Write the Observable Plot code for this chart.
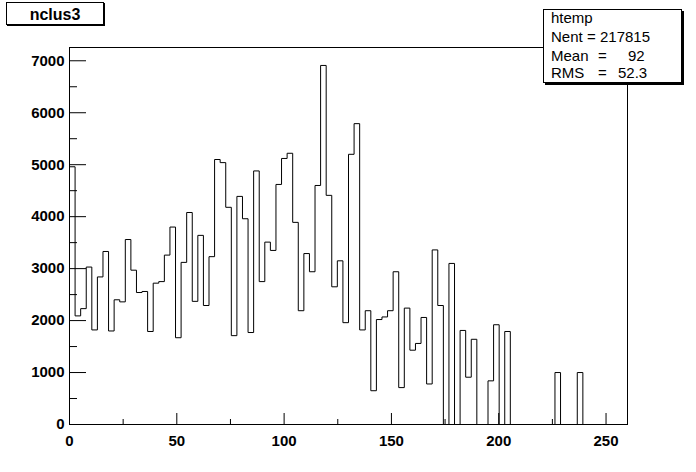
<!DOCTYPE html>
<html><head><meta charset="utf-8">
<script src="https://cdn.jsdelivr.net/npm/d3@7"></script>
<script src="https://cdn.jsdelivr.net/npm/@observablehq/plot@0.6"></script>
<style>
html,body{margin:0;padding:0;background:#fff;}
#wrap{position:relative;width:696px;height:472px;font-family:"Liberation Sans",Arial,sans-serif;color:#000;overflow:hidden;}
#wrap svg{position:absolute;left:0;top:0;}
.title{position:absolute;left:6px;top:2px;width:96px;height:21px;border:1px solid #000;box-shadow:1px 1px 0 #000;background:#fff;font-weight:bold;font-size:16px;text-align:center;line-height:24px;overflow:hidden;}
.stats{position:absolute;left:543px;top:9px;width:137px;height:72px;border:1px solid #000;box-shadow:2px 2px 0 #000;background:#fff;font-size:15px;}
.stats span{position:absolute;white-space:pre;line-height:15px;}
</style></head><body>
<div id="wrap"></div>
<script>
const titleText = "nclus3";
const histName = "htemp";
const xMin = 0, xMax = 260, nBins = 100;
const counts = [
  4960, 2090, 2230, 3030, 1820, 2840, 3330, 1800, 2400, 2360,
  3560, 2970, 2540, 2560, 1790, 2720, 2750, 3260, 3800, 1670,
  3120, 4080, 2370, 3640, 2290, 3230, 5100, 5040, 4180, 1710,
  4390, 3960, 1770, 4880, 2750, 3510, 3350, 4620, 5120, 5220,
  3890, 2190, 3290, 2940, 4600, 6910, 4410, 2650, 3150, 1960,
  5200, 5790, 1820, 2190, 650, 2020, 2070, 2190, 2940, 710,
  2240, 1430, 1560, 2060, 780, 3360, 2290, 0, 3100, 0,
  1810, 910, 1640, 0, 0, 840, 1920, 0, 1790, 0,
  0, 0, 0, 0, 0, 0, 0, 1000, 0, 0,
  0, 1000, 0, 0, 0, 0, 0, 0, 0, 0
];
const xTicksMajor = [0, 50, 100, 150, 200, 250];
const xTicksMinor = [25, 75, 125, 175, 225];
const yTicksMajor = [0, 1000, 2000, 3000, 4000, 5000, 6000, 7000];
const yTicksMinor = [500, 1500, 2500, 3500, 4500, 5500, 6500];
const statLabels = ["Nent", "Mean", "RMS"];
const statValues = ["217815", "92", "52.3"];

const W = 696, H = 472, mL = 69, mR = 69, mT = 47, mB = 48;
const fw = W - mL - mR, fh = H - mT - mB;
const binW = (xMax - xMin) / nBins;
const steps = counts.map((c, i) => ({x: xMin + i * binW, y: c}));
steps.push({x: xMax, y: counts[nBins - 1]});

const chart = Plot.plot({
  width: W, height: H,
  marginLeft: mL, marginRight: mR, marginTop: mT, marginBottom: mB,
  x: {domain: [xMin, xMax]},
  y: {domain: [0, 1.05 * d3.max(counts)]},
  style: {background: "white", color: "black", fontFamily: "Liberation Sans, Arial, sans-serif"},
  marks: [
    Plot.axisX(xTicksMajor, {tickSize: 0, tickPadding: 11, fontSize: 15, fontWeight: "bold", label: null, tickFormat: d3.format("d")}),
    Plot.axisY(yTicksMajor, {tickSize: 0, tickPadding: 5, fontSize: 15, fontWeight: "bold", label: null, tickFormat: d3.format("d")}),
    Plot.ruleX(xTicksMajor, {x: d => d, insetTop: fh - 11, stroke: "black"}),
    Plot.ruleX(xTicksMinor, {x: d => d, insetTop: fh - 5, stroke: "black"}),
    Plot.ruleY(yTicksMajor, {y: d => d, insetRight: fw - 17, stroke: "black"}),
    Plot.ruleY(yTicksMinor, {y: d => d, insetRight: fw - 8, stroke: "black"}),
    Plot.line(steps, {x: "x", y: "y", curve: "step-after", stroke: "black", strokeWidth: 1}),
    Plot.frame({stroke: "black"})
  ]
});

const wrap = document.getElementById("wrap");
wrap.appendChild(chart);

const t = document.createElement("div");
t.className = "title";
t.textContent = titleText;
wrap.appendChild(t);

const s = document.createElement("div");
s.className = "stats";
const rows = [
  {text: histName, left: 7, top: 0},
  {text: statLabels[0], left: 7, top: 19},
  {text: "=", left: 43, top: 19},
  {text: statValues[0], left: 56, top: 19},
  {text: statLabels[1], left: 7, top: 38},
  {text: "=", left: 54, top: 38},
  {text: statValues[1], left: 84, top: 38},
  {text: statLabels[2], left: 7, top: 55},
  {text: "=", left: 54, top: 55},
  {text: statValues[2], left: 74, top: 55}
];
for (const r of rows) {
  const sp = document.createElement("span");
  sp.textContent = r.text;
  sp.style.left = r.left + "px";
  sp.style.top = r.top + "px";
  s.appendChild(sp);
}
wrap.appendChild(s);
</script>
</body></html>
